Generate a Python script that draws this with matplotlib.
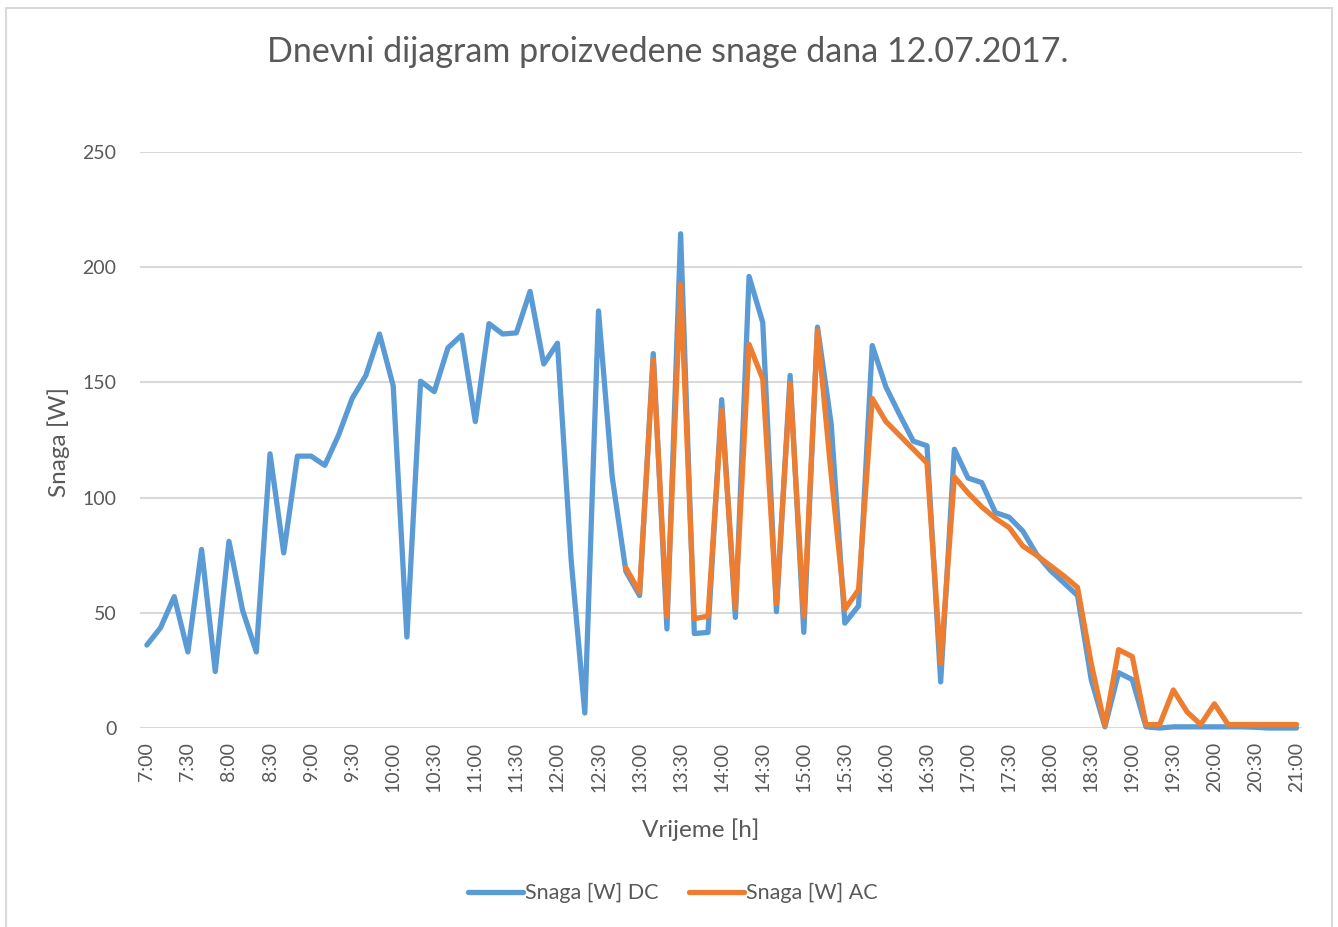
import numpy as np
import matplotlib
matplotlib.use('Agg')
import matplotlib.pyplot as plt
from matplotlib.patches import Rectangle

# mjerenja svakih 10 minuta, od 7:00 do 21:00
snaga_dc = [36, 43.5, 57, 33, 77.5, 24.5, 81, 51, 33, 119,
            76, 118, 118, 114, 127, 143, 153, 171, 148.5, 39.5,
            150.5, 146, 165, 170.5, 133, 175.5, 171, 171.5, 189.5, 158,
            167, 73, 6.5, 181, 109, 68, 57.5, 162.5, 43, 214.5,
            41, 41.5, 142.5, 48, 196, 176, 50.5, 153, 41.5, 174,
            132, 45.5, 53, 166, 148, 136, 124.5, 122.5, 20, 121,
            108.5, 106.5, 93.5, 91.5, 85.5, 75.5, 68.5, 63, 57.5, 21,
            0.5, 24, 21, 0.5, 0, 0.5, 0.5, 0.5, 0.5, 0.5,
            0.5, 0.3, 0, 0, 0]

# AC mjerenje krece tek od 12:50
snaga_ac = [np.nan] * 35 + [
            69.5, 59, 160, 48.5, 192.5,
            47.5, 48.5, 138, 52, 166.5, 151.5, 54, 149.5, 48.5, 172.5,
            110, 51.5, 60, 143, 133, 127, 121, 115, 28, 109,
            102, 96, 91, 87, 79, 75, 70.5, 66, 61, 28,
            1, 34, 31, 1.5, 1.5, 16.5, 7, 1.5, 10.5, 1.5,
            1.5, 1.5, 1.5, 1.5, 1.5]

vremena = ['7:00', '7:30', '8:00', '8:30', '9:00', '9:30', '10:00', '10:30',
           '11:00', '11:30', '12:00', '12:30', '13:00', '13:30', '14:00',
           '14:30', '15:00', '15:30', '16:00', '16:30', '17:00', '17:30',
           '18:00', '18:30', '19:00', '19:30', '20:00', '20:30', '21:00']

PLAVA = '#5B9BD5'
NARANCASTA = '#ED7D31'
SIVA_TEKST = '#595959'
SIVA_MREZA = '#D9D9D9'

plt.rcParams['font.family'] = ['Lato', 'DejaVu Sans']

W, H = 1338, 927
fig = plt.figure(figsize=(W / 100, H / 100), dpi=100)
ax = fig.add_axes([140 / W, (H - 728) / H, (1302 - 140) / W, 576 / H])

x = np.arange(len(snaga_dc))
ax.plot(x, snaga_dc, color=PLAVA, lw=3.8, label='Snaga [W] DC',
        solid_joinstyle='round', solid_capstyle='round', clip_on=False, zorder=3)
ax.plot(x, snaga_ac, color=NARANCASTA, lw=3.8, label='Snaga [W] AC',
        solid_joinstyle='round', solid_capstyle='round', clip_on=False, zorder=4)

ax.set_xlim(-0.5, len(snaga_dc) - 0.6)
ax.set_ylim(0, 250)
ax.set_yticks(np.arange(0, 251, 50))
ax.set_xticks(np.arange(0, len(snaga_dc), 3))
ax.set_xticklabels(vremena, rotation=90)

ax.grid(axis='y', color=SIVA_MREZA, lw=1.5)
ax.set_axisbelow(True)
for s in ax.spines.values():
    s.set_visible(False)
ax.tick_params(axis='both', length=0, colors=SIVA_TEKST, labelsize=14)
ax.tick_params(axis='x', pad=10)
ax.tick_params(axis='y', pad=17)

fig.text(668 / W, 1 - 52 / H, 'Dnevni dijagram proizvedene snage dana 12.07.2017.',
         ha='center', va='center', fontsize=24.5, color=SIVA_TEKST)
fig.text(701 / W, 1 - 830 / H, 'Vrijeme [h]', ha='center', va='center',
         fontsize=17.5, color=SIVA_TEKST)
fig.text(59 / W, 1 - 442 / H, 'Snaga [W]', ha='center', va='center',
         rotation=90, fontsize=17.5, color=SIVA_TEKST)

leg = fig.legend(loc='center', bbox_to_anchor=(673 / W, 1 - 893 / H), ncol=2,
                 frameon=False, fontsize=15.5, handlelength=2.55, handletextpad=0.12,
                 columnspacing=1.4)
for t in leg.get_texts():
    t.set_color(SIVA_TEKST)

# okvir grafikona
fig.patches.append(Rectangle((6 / W, -0.01), (1332 - 6) / W, 1 - 8 / H + 0.01,
                             transform=fig.transFigure, fill=False,
                             edgecolor=SIVA_MREZA, lw=1.5))

fig.savefig('out.png', dpi=100)
